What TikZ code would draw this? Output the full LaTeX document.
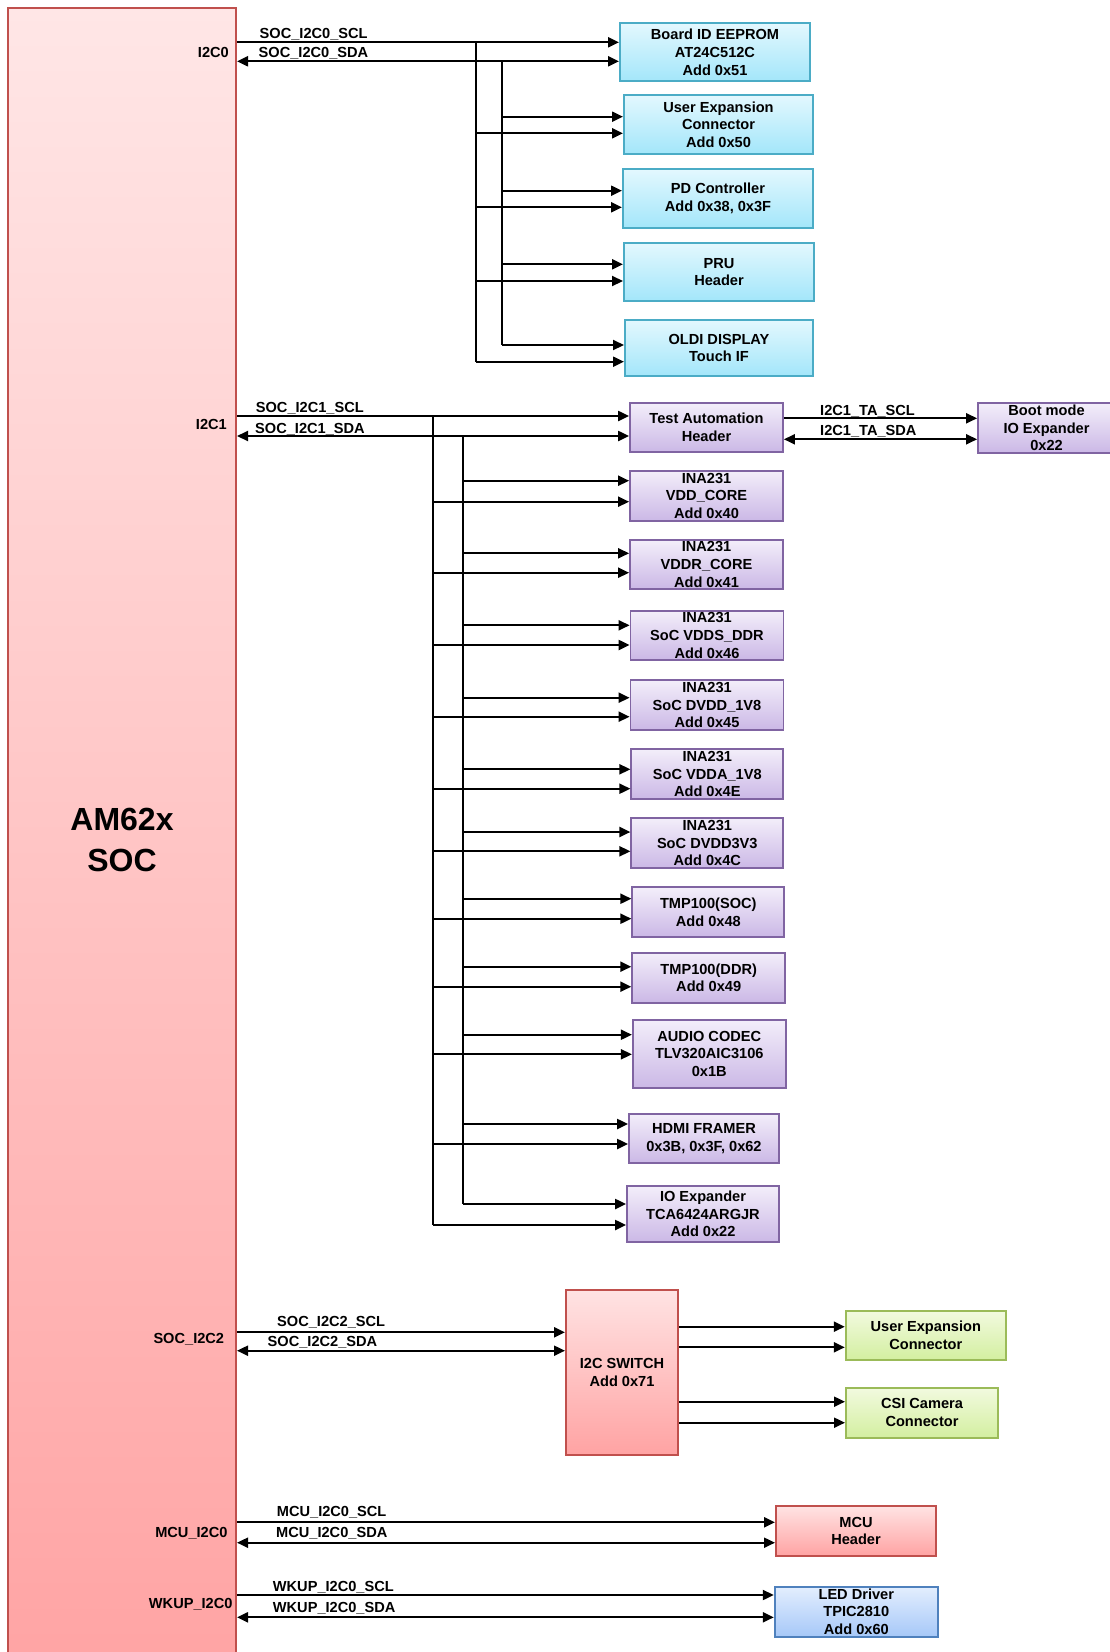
\documentclass[tikz,border=0pt]{standalone}
\usepackage{fontspec}
\setmainfont{Liberation Sans}
\usetikzlibrary{arrows.meta}
\definecolor{socT}{HTML}{FFE6E6}
\definecolor{socB}{HTML}{FFA4A4}
\definecolor{redE}{HTML}{C0504D}
\definecolor{redT}{HTML}{FFE3E3}
\definecolor{redB}{HTML}{FFA3A3}
\definecolor{cyanE}{HTML}{4BACC6}
\definecolor{cyanT}{HTML}{E3F8FE}
\definecolor{cyanB}{HTML}{A3E6FA}
\definecolor{purE}{HTML}{8064A2}
\definecolor{purT}{HTML}{F3EEFA}
\definecolor{purB}{HTML}{CBB8E6}
\definecolor{grnE}{HTML}{9BBB59}
\definecolor{grnT}{HTML}{F2FADF}
\definecolor{grnB}{HTML}{D3EFA0}
\definecolor{bluE}{HTML}{4F81BD}
\definecolor{bluT}{HTML}{E3EEFE}
\definecolor{bluB}{HTML}{A6C8F8}
\begin{document}
\begin{tikzpicture}[x=1pt,y=-1pt,
  every node/.style={font=\bfseries\fontsize{14.6}{17.7}\selectfont, text=black},
  box/.style={draw, line width=2pt, inner sep=0pt, align=center},
  cbox/.style={box, draw=cyanE, top color=cyanT, bottom color=cyanB},
  pbox/.style={box, draw=purE, top color=purT, bottom color=purB, line width=1.8pt},
  rbox/.style={box, draw=redE, top color=redT, bottom color=redB},
  gbox/.style={box, draw=grnE, top color=grnT, bottom color=grnB},
  bbox/.style={box, draw=bluE, top color=bluT, bottom color=bluB},
  lbl/.style={inner sep=0pt, text depth=0pt},
  sig/.style={line width=2.1pt, -{Triangle[length=11pt,width=10pt]}},
  dsig/.style={line width=2.1pt, {Triangle[length=11pt,width=10pt]}-{Triangle[length=11pt,width=10pt]}},
  bus/.style={line width=1.4pt},
]
\useasboundingbox (0,0) rectangle (1109,1652);
\fill[white] (0,0) rectangle (1109,1652);

% SOC
\node[box, draw=redE, top color=socT, bottom color=socB, minimum width=228pt, minimum height=1663pt,
  font=\bfseries\fontsize{32}{41}\selectfont] (soc) at (122,839.5) {AM62x\\SOC};

% ---------------- I2C0 ----------------
\node[cbox, minimum width=190pt, minimum height=58.5pt] (b1) at (715,52.2) {Board ID EEPROM\\AT24C512C\\Add 0x51};
\node[cbox, minimum width=189pt, minimum height=59pt] (b2) at (718.5,124.5) {User Expansion\\Connector\\Add 0x50};
\node[cbox, minimum width=190pt, minimum height=59pt] (b3) at (718,198.5) {PD Controller\\Add 0x38, 0x3F};
\node[cbox, minimum width=190pt, minimum height=58pt] (b4) at (719,272) {PRU\\Header};
\node[cbox, minimum width=188pt, minimum height=56pt] (b5) at (719,348) {OLDI DISPLAY\\Touch IF};

\node[lbl, anchor=east] (l0) at (229,52.3) {I2C0};
\node[lbl, anchor=west] (l0scl) at (259.5,33.3) {SOC\_I2C0\_SCL};
\node[lbl, anchor=west] (l0sda) at (258.5,52.3) {SOC\_I2C0\_SDA};

\coordinate (j0a) at (476,42.3);
\coordinate (j0b) at (502,61.3);
\draw[sig] (soc.east |- j0a) -- (j0a -| b1.west);
\draw[dsig] (soc.east |- j0b) -- (j0b -| b1.west);
\foreach \n/\ya/\yb in {b2/116.7/133.3, b3/190.7/207.3, b4/264.3/281, b5/345/361.7}{
  \coordinate (u\n) at (502,\ya);
  \coordinate (w\n) at (476,\yb);
  \draw[sig] (u\n) -- (u\n -| \n.west);
  \draw[sig] (w\n) -- (w\n -| \n.west);
}
\draw[bus] (j0a) -- (wb5);
\draw[bus] (j0b) -- (ub5);

% ---------------- I2C1 ----------------
\node[pbox, minimum width=153pt, minimum height=49pt] (ta) at (706.5,427.5) {Test Automation\\Header};
\node[pbox, minimum width=137pt, minimum height=50pt] (boot) at (1046.5,428) {Boot mode\\IO Expander\\0x22};
\node[pbox, minimum width=153pt, minimum height=50pt] (i1) at (706.5,495.7) {INA231\\VDD\_CORE\\Add 0x40};
\node[pbox, minimum width=153pt, minimum height=49pt] (i2) at (706.5,564.5) {INA231\\VDDR\_CORE\\Add 0x41};
\node[pbox, minimum width=153pt, minimum height=49.3pt] (i3) at (707,635.3) {INA231\\SoC VDDS\_DDR\\Add 0x46};
\node[pbox, minimum width=153pt, minimum height=50pt] (i4) at (707,705) {INA231\\SoC DVDD\_1V8\\Add 0x45};
\node[pbox, minimum width=152pt, minimum height=50pt] (i5) at (707.3,774) {INA231\\SoC VDDA\_1V8\\Add 0x4E};
\node[pbox, minimum width=152pt, minimum height=50pt] (i6) at (707.3,843) {INA231\\SoC DVDD3V3\\Add 0x4C};
\node[pbox, minimum width=152pt, minimum height=49.3pt] (t1) at (708.3,912) {TMP100(SOC)\\Add 0x48};
\node[pbox, minimum width=153pt, minimum height=50pt] (t2) at (708.7,977.7) {TMP100(DDR)\\Add 0x49};
\node[pbox, minimum width=153pt, minimum height=67.7pt] (ac) at (709.3,1053.8) {AUDIO CODEC\\TLV320AIC3106\\0x1B};
\node[pbox, minimum width=150pt, minimum height=49pt] (hd) at (704,1138.5) {HDMI FRAMER\\0x3B, 0x3F, 0x62};
\node[pbox, minimum width=152pt, minimum height=56pt] (io) at (703,1214) {IO Expander\\TCA6424ARGJR\\Add 0x22};

\node[lbl, anchor=east] (l1) at (227,424.3) {I2C1};
\node[lbl, anchor=west] (l1scl) at (255.7,407.7) {SOC\_I2C1\_SCL};
\node[lbl, anchor=west] (l1sda) at (255,428.3) {SOC\_I2C1\_SDA};
\node[lbl, anchor=west] (ltascl) at (820,410.7) {I2C1\_TA\_SCL};
\node[lbl, anchor=west] (ltasda) at (820,430.7) {I2C1\_TA\_SDA};

\coordinate (j1a) at (433,416);
\coordinate (j1b) at (463,436);
\draw[sig] (soc.east |- j1a) -- (j1a -| ta.west);
\draw[dsig] (soc.east |- j1b) -- (j1b -| ta.west);
\coordinate (tascl) at (ta.east |- 0,418.3);
\coordinate (tasda) at (ta.east |- 0,439.3);
\draw[sig] (tascl) -- (tascl -| boot.west);
\draw[dsig] (tasda) -- (tasda -| boot.west);
\foreach \n/\ya/\yb in {i1/480.7/501.7, i2/553.3/572.7, i3/625.3/645, i4/697.7/716.7,
  i5/769.3/788.7, i6/832/851.3, t1/898.7/918.7, t2/966.7/986.7, ac/1034.7/1054.3,
  hd/1124/1144, io/1204/1225}{
  \coordinate (u\n) at (463,\ya);
  \coordinate (w\n) at (433,\yb);
  \draw[sig] (u\n) -- (u\n -| \n.west);
  \draw[sig] (w\n) -- (w\n -| \n.west);
}
\draw[bus] (j1a) -- (wio);
\draw[bus] (j1b) -- (uio);

% ---------------- I2C2 ----------------
\node[rbox, minimum width=112pt, minimum height=165pt] (sw) at (622,1372.5) {I2C SWITCH\\Add 0x71};
\node[gbox, minimum width=160pt, minimum height=49pt] (uec) at (925.8,1335.5) {User Expansion\\Connector};
\node[gbox, minimum width=152pt, minimum height=50pt] (csi) at (922,1412.8) {CSI Camera\\Connector};

\node[lbl, anchor=east] (l2) at (224.3,1338) {SOC\_I2C2};
\node[lbl, anchor=west] (l2scl) at (277,1321.5) {SOC\_I2C2\_SCL};
\node[lbl, anchor=west] (l2sda) at (267.5,1341) {SOC\_I2C2\_SDA};

\coordinate (j2a) at (soc.east |- 0,1332.3);
\coordinate (j2b) at (soc.east |- 0,1350.7);
\draw[sig] (j2a) -- (j2a -| sw.west);
\draw[dsig] (j2b) -- (j2b -| sw.west);
\foreach \n/\ya/\yb in {uec/1326.7/1347.3, csi/1401.7/1422.7}{
  \coordinate (u\n) at (sw.east |- 0,\ya);
  \coordinate (w\n) at (sw.east |- 0,\yb);
  \draw[sig] (u\n) -- (u\n -| \n.west);
  \draw[sig] (w\n) -- (w\n -| \n.west);
}

% ---------------- MCU / WKUP ----------------
\node[rbox, minimum width=160pt, minimum height=50pt] (mcu) at (856,1531) {MCU\\Header};
\node[bbox, minimum width=163pt, minimum height=50pt] (led) at (856.3,1611.7) {LED Driver\\TPIC2810\\Add 0x60};

\node[lbl, anchor=east] (l3) at (227.7,1532.7) {MCU\_I2C0};
\node[lbl, anchor=west] (l3scl) at (276.7,1511.7) {MCU\_I2C0\_SCL};
\node[lbl, anchor=west] (l3sda) at (276,1532.7) {MCU\_I2C0\_SDA};
\node[lbl, anchor=east] (l4) at (232.7,1603.3) {WKUP\_I2C0};
\node[lbl, anchor=west] (l4scl) at (272.7,1586) {WKUP\_I2C0\_SCL};
\node[lbl, anchor=west] (l4sda) at (272.7,1607.7) {WKUP\_I2C0\_SDA};

\coordinate (j3a) at (soc.east |- 0,1522.3);
\coordinate (j3b) at (soc.east |- 0,1542.7);
\coordinate (j4a) at (soc.east |- 0,1595);
\coordinate (j4b) at (soc.east |- 0,1617.3);
\draw[sig] (j3a) -- (j3a -| mcu.west);
\draw[dsig] (j3b) -- (j3b -| mcu.west);
\draw[sig] (j4a) -- (j4a -| led.west);
\draw[dsig] (j4b) -- (j4b -| led.west);
\end{tikzpicture}
\end{document}
